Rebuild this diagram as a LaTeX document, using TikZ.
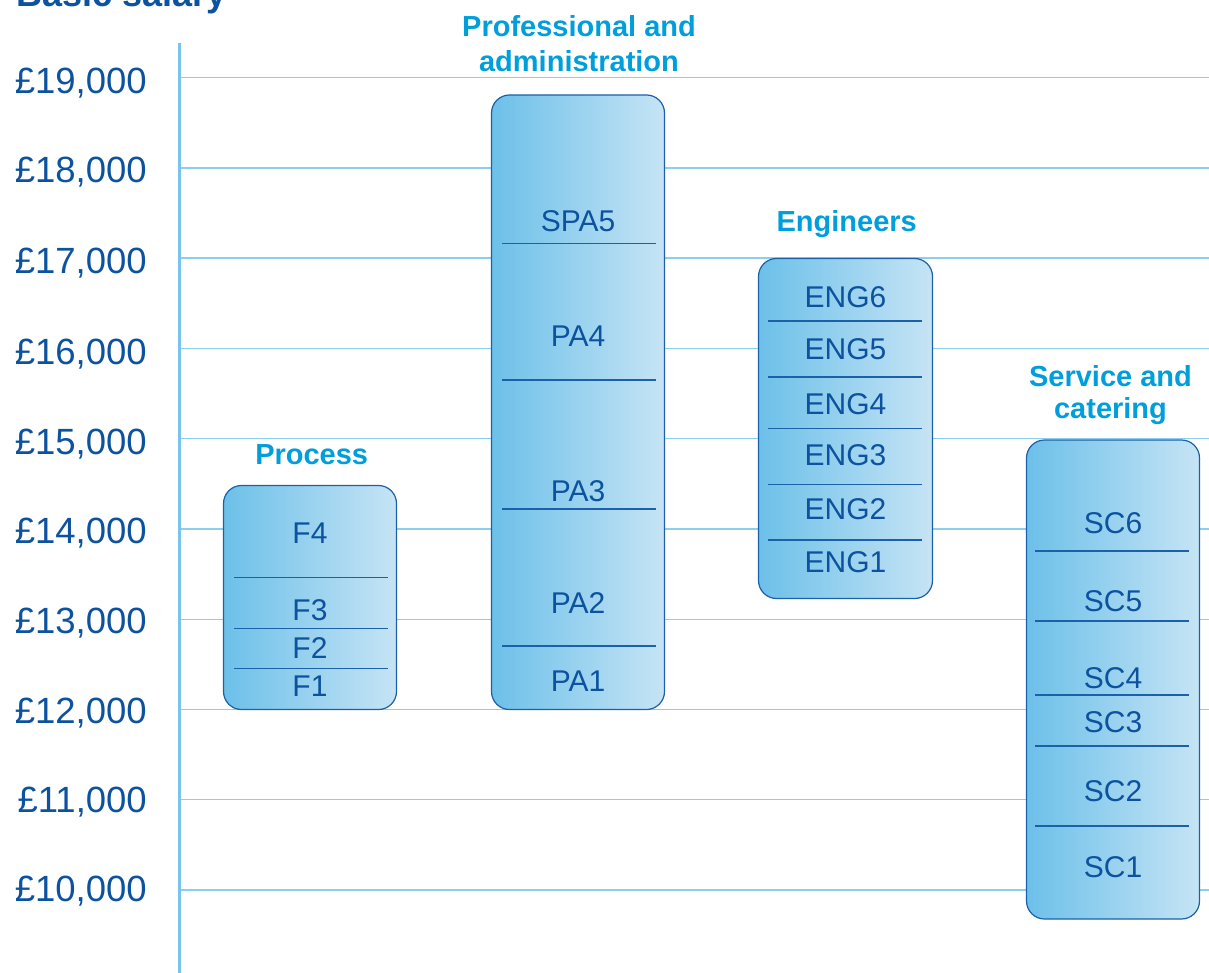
\documentclass[tikz,border=0pt]{standalone}
\usepackage{fontspec}
\setmainfont{Liberation Sans}
\definecolor{dk}{RGB}{12,82,158}
\definecolor{ttlc}{RGB}{0,158,219}
\definecolor{gridc}{RGB}{140,206,238}
\definecolor{axisc}{RGB}{120,196,236}
\definecolor{bord}{RGB}{28,96,168}
\definecolor{gl}{RGB}{108,192,233}
\definecolor{gr}{RGB}{198,228,245}
\begin{document}
\begin{tikzpicture}[x=1pt,y=-1pt,
  ylab/.style={anchor=base east, text=dk, font=\fontsize{36.5}{44}\selectfont, inner sep=0pt},
  blab/.style={anchor=base, text=dk, font=\fontsize{30}{36}\selectfont, inner sep=0pt},
  ttl/.style={anchor=base, text=ttlc, font=\bfseries\fontsize{29}{35}\selectfont, inner sep=0pt},
  boxs/.style={draw=bord, line width=1.2pt, rounded corners=18pt, left color=gl, right color=gr, inner sep=0pt},
  divl/.style={draw=bord, line width=1.5pt},
  gridl/.style={draw=gridc, line width=1.4pt},
  axisl/.style={draw=axisc, line width=2.4pt}]
\useasboundingbox (0,0) rectangle (1209,973);
\clip (0,0) rectangle (1209,973);
% title
\node[anchor=base west, text=dk, font=\bfseries\fontsize{36}{43}\selectfont, inner sep=0pt] (title) at (16,7) {Basic salary};
% gridlines
\foreach \i in {0,...,9}{
  \draw[gridl] (180,77.7+90.25*\i) -- (1209,77.7+90.25*\i);
}
% axis
\coordinate (axtop) at (179.5,43);
\coordinate (axbot) at (179.5,973);
\draw[axisl] (axtop) -- (axbot);
% y labels
\node[ylab] (y19) at (147,94) {£19,000};
\node[ylab] (y18) at (147,183) {£18,000};
\node[ylab] (y17) at (147,274) {£17,000};
\node[ylab] (y16) at (147,364) {£16,000};
\node[ylab] (y15) at (147,454) {£15,000};
\node[ylab] (y14) at (147,543) {£14,000};
\node[ylab] (y13) at (147,633) {£13,000};
\node[ylab] (y12) at (147,723) {£12,000};
\node[ylab] (y11) at (147,812) {£11,000};
\node[ylab] (y10) at (147,901) {£10,000};
% boxes
\node[boxs, minimum width=173pt, minimum height=224pt] (proc) at (310,597.5) {};
\node[boxs, minimum width=173pt, minimum height=614.5pt] (pa) at (578,402.25) {};
\node[boxs, minimum width=174pt, minimum height=340pt] (eng) at (845.5,428.5) {};
\node[boxs, minimum width=173pt, minimum height=479pt] (sc) at (1113,679.5) {};
% dividers
\foreach \y in {577.7,628.5,668.3}{\draw[divl] (234,\y) -- (388,\y);}
\foreach \y in {243.3,380,509,646}{\draw[divl] (502,\y) -- (656,\y);}
\foreach \y in {321,377,428.3,484.3,540}{\draw[divl] (768,\y) -- (922,\y);}
\foreach \y in {551,621,695,746,826}{\draw[divl] (1035,\y) -- (1189,\y);}
% titles
\node[ttl] (tproc) at (311.7,464.3) {Process};
\node[ttl] (tpa1) at (579,36.7) {Professional and};
\node[ttl] (tpa2) at (579,71.3) {administration};
\node[ttl] (teng) at (846.7,231.7) {Engineers};
\node[ttl] (tsc1) at (1110.5,386) {Service and};
\node[ttl] (tsc2) at (1110.5,418.5) {catering};
% box labels
\node[blab] (f4) at (310,543.7) {F4};
\node[blab] (f3) at (310,620.7) {F3};
\node[blab] (f2) at (310,658.7) {F2};
\node[blab] (f1) at (310,696.7) {F1};
\node[blab] (spa5) at (578,232) {SPA5};
\node[blab] (pa4) at (578,346.7) {PA4};
\node[blab] (pa3) at (578,501.7) {PA3};
\node[blab] (pa2) at (578,613.7) {PA2};
\node[blab] (pa1) at (578,691.7) {PA1};
\node[blab] (eng6) at (845.5,307.4) {ENG6};
\node[blab] (eng5) at (845.5,359.7) {ENG5};
\node[blab] (eng4) at (845.5,414) {ENG4};
\node[blab] (eng3) at (845.5,465.7) {ENG3};
\node[blab] (eng2) at (845.5,519) {ENG2};
\node[blab] (eng1) at (845.5,572.4) {ENG1};
\node[blab] (sc6) at (1113,533.2) {SC6};
\node[blab] (sc5) at (1113,611.7) {SC5};
\node[blab] (sc4) at (1113,688.7) {SC4};
\node[blab] (sc3) at (1113,732.7) {SC3};
\node[blab] (sc2) at (1113,801.7) {SC2};
\node[blab] (sc1) at (1113,877.7) {SC1};
\end{tikzpicture}
\end{document}
